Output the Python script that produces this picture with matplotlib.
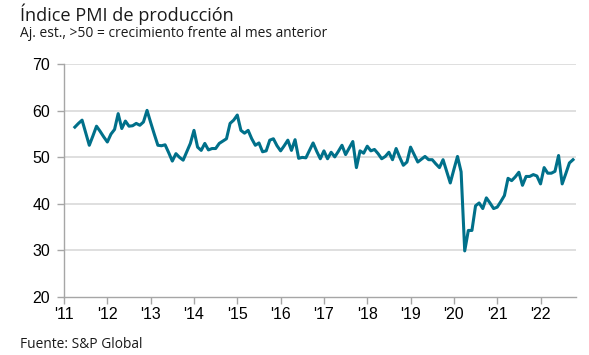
import matplotlib.pyplot as plt
import numpy as np

# monthly output PMI, Apr 2011 - Oct 2022
start_year = 2011
start_month = 4
pmi = [
    # 2011 Apr-Dec
    56.5, 57.3, 58.0, 55.3, 52.6, 54.6, 56.7, 55.6, 54.4,
    # 2012
    53.3, 55.0, 56.0, 59.4, 56.2, 57.8, 56.7, 56.8, 57.3, 56.9, 57.6, 60.1,
    # 2013
    57.5, 55.0, 52.6, 52.5, 52.7, 51.0, 49.2, 50.8, 50.0, 49.4, 51.2, 53.0,
    # 2014
    55.8, 52.2, 51.5, 53.0, 51.6, 51.9, 51.9, 53.0, 53.5, 54.0, 57.3, 58.0,
    # 2015
    59.1, 55.8, 55.2, 55.8, 54.0, 52.6, 53.1, 51.2, 51.4, 53.7, 54.0, 52.5,
    # 2016
    51.4, 52.5, 53.7, 51.5, 53.8, 49.8, 50.0, 49.9, 51.5, 53.1, 51.3, 49.7,
    # 2017
    51.4, 49.7, 51.1, 50.1, 51.3, 52.6, 50.6, 52.0, 53.4, 47.8, 51.4, 50.9,
    # 2018
    52.4, 51.4, 51.7, 50.8, 49.7, 50.2, 51.1, 49.5, 51.9, 50.0, 48.3, 49.0,
    # 2019
    52.2, 50.6, 49.0, 49.6, 50.2, 49.5, 49.5, 48.6, 47.8, 49.5, 47.0, 44.5,
    # 2020
    47.4, 50.2, 46.9, 29.9, 34.3, 34.3, 39.6, 40.2, 39.0, 41.3, 40.2, 39.0,
    # 2021
    39.3, 40.5, 41.8, 45.5, 45.0, 45.8, 46.8, 44.0, 45.9, 45.9, 46.3, 46.0,
    # 2022 Jan-Oct
    44.3, 47.8, 46.6, 46.6, 47.0, 50.4, 44.3, 46.5, 48.8, 49.5,
]
years = list(range(2011, 2023))
year_labels = ["'" + str(y)[2:] for y in years]
y_ticks = [20, 30, 40, 50, 60, 70]

months = np.arange(len(pmi)) + (start_month - 1)
x = start_year + months / 12.0

line_color = '#00708a'
axis_color = '#a6a6a6'
grid_color = '#d9d9d9'
text_color = '#1a1a1a'

fig = plt.figure(figsize=(5.89, 3.55), dpi=100)
ax = fig.add_axes([0.1087, 0.1634, 0.978 - 0.1087, 0.8189 - 0.1634])

ax.plot(x, pmi, color=line_color, linewidth=2.2, solid_joinstyle='round', zorder=3)

ax.set_xlim(2011, 2022.82)
ax.set_ylim(20, 70)
ax.set_xticks(years)
ax.set_xticklabels(year_labels, fontsize=11.5, family='Liberation Sans')
ax.set_yticks(y_ticks)
ax.set_yticklabels([str(v) for v in y_ticks], fontsize=11.5, family='Liberation Sans')

for v in y_ticks[1:]:
    ax.axhline(v, color=grid_color, linewidth=1.2, zorder=1)

for side in ['top', 'right']:
    ax.spines[side].set_visible(False)
for side in ['left', 'bottom']:
    ax.spines[side].set_color(axis_color)
    ax.spines[side].set_linewidth(1.0)
ax.tick_params(axis='both', colors=axis_color, labelcolor='black', length=5, width=1.0)
ax.tick_params(axis='x', pad=2)
ax.tick_params(axis='y', pad=5)

fig.text(20 / 589, 1 - 20.7 / 355, 'Índice PMI de producción', fontsize=13.1,
         family='Open Sans', va='baseline', ha='left', color=text_color)
fig.text(20 / 589, 1 - 37.3 / 355, 'Aj. est., >50 = crecimiento frente al mes anterior',
         fontsize=9.9, family='Open Sans', va='baseline', ha='left', color=text_color)
fig.text(20 / 589, 1 - 347.7 / 355, 'Fuente: S&P Global', fontsize=9.9,
         family='Open Sans', va='baseline', ha='left', color=text_color)

fig.savefig('out.png', dpi=100)
